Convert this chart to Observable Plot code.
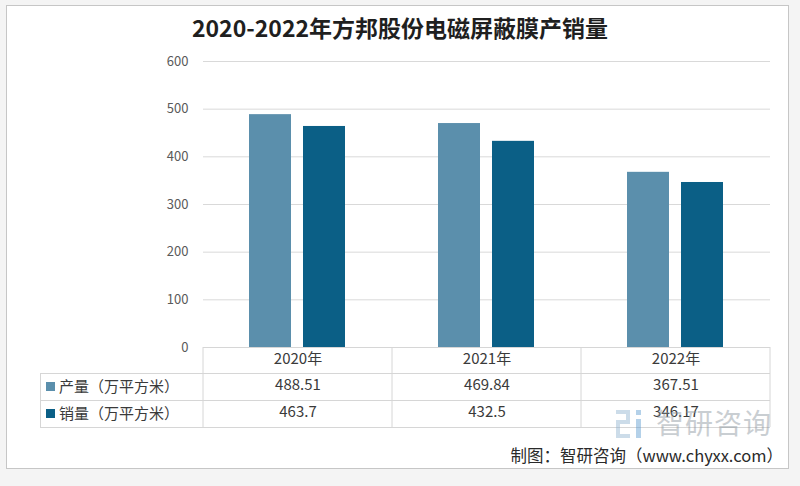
<!DOCTYPE html>
<html><head><meta charset="utf-8">
<script src="https://cdn.jsdelivr.net/npm/d3@7"></script>
<script src="https://cdn.jsdelivr.net/npm/@observablehq/plot@0.6"></script>
<style>
html,body{margin:0;padding:0;background:#f4f4f4;}
#wrap{position:relative;width:800px;height:486px;overflow:hidden;font-family:"Noto Sans CJK SC","Noto Sans",sans-serif;}
#title{position:absolute;left:0;width:800px;top:11px;text-align:center;font-size:23px;font-weight:bold;color:#1f1f1f;line-height:32px;z-index:2;}
#chart{position:absolute;left:0;top:0;}
</style></head>
<body><div id="wrap"><div id="chart"></div><div id="title">2020-2022年方邦股份电磁屏蔽膜产销量</div></div>
<script>
const years = ["2020年", "2021年", "2022年"];
const seriesKeys = ["产量", "销量"];
const seriesLabels = ["产量（万平方米）", "销量（万平方米）"];
const production = [488.51, 469.84, 367.51];
const sales = [463.7, 432.5, 346.17];
const productionLabels = ["488.51", "469.84", "367.51"];
const salesLabels = ["463.7", "432.5", "346.17"];
const yTicks = [0, 100, 200, 300, 400, 500, 600];
const colors = ["#5b8fac", "#0b5f86"];
const caption = "制图：智研咨询（www.chyxx.com）";
const watermark = "智研咨询";

const W = 800, H = 486, mT = 61, mB = 139, mL = 203, mR = 30;
const font = '"Noto Sans CJK SC","Noto Sans",sans-serif';

const bars = years.flatMap((y, i) => [
  {year: y, s: seriesKeys[0], v: production[i]},
  {year: y, s: seriesKeys[1], v: sales[i]}
]);
const rowVals = [years, productionLabels, salesLabels];
const rowDy = [16, 42, 69];

const tableMarks = rowVals.map((vals, r) =>
  Plot.text(years.map((y, i) => ({year: y, t: vals[i]})), {
    fx: "year", text: "t", frameAnchor: "bottom", dy: rowDy[r],
    fontSize: 15, fill: "#3a3a3a", fontFamily: font
  })
);

const plot = Plot.plot({
  width: W, height: H,
  marginTop: mT, marginBottom: mB, marginLeft: mL, marginRight: mR,
  style: {background: "transparent", fontFamily: font, overflow: "visible"},
  fx: {domain: years, padding: 0, axis: null, label: null},
  x: {domain: seriesKeys, paddingInner: 0.222, paddingOuter: 0.861, axis: null},
  y: {domain: [0, 600], axis: null},
  color: {domain: seriesKeys, range: colors},
  marks: [
    Plot.gridY(yTicks.filter(t => t > 0), {stroke: "#d9d9d9", strokeOpacity: 1}),
    Plot.axisY(yTicks, {tickSize: 0, tickPadding: 15, fontSize: 13, fill: "#5a5a5a", label: null, fontFamily: font}),
    Plot.barY(bars, {fx: "year", x: "s", y: "v", fill: "s"}),
    ...tableMarks
  ]
});
document.getElementById("chart").appendChild(plot);

const svg = d3.select(plot);
const bg = svg.insert("g", ":first-child");
bg.append("rect").attr("x", 0).attr("y", 0).attr("width", W).attr("height", H).attr("fill", "#f4f4f4");
bg.append("rect").attr("x", 6.5).attr("y", 5.5).attr("width", 782).attr("height", 463).attr("fill", "#fff").attr("stroke", "#c6c6c6");

const g = svg.append("g").attr("text-anchor", "start");
const x0 = mL, x1 = W - mR, step = (x1 - x0) / years.length;
const yTop = H - mB, rowH = [26, 27, 27];
const yLines = [yTop, yTop + rowH[0], yTop + rowH[0] + rowH[1], yTop + rowH[0] + rowH[1] + rowH[2]];
const tableLeft = 40;
const lc = "#d6d6d6";
g.append("line").attr("x1", x0).attr("x2", x1).attr("y1", yLines[0] + 0.5).attr("y2", yLines[0] + 0.5).attr("stroke", lc);
for (let k = 1; k < 4; k++) g.append("line").attr("x1", tableLeft).attr("x2", x1).attr("y1", yLines[k] + 0.5).attr("y2", yLines[k] + 0.5).attr("stroke", lc);
for (let k = 0; k <= years.length; k++) g.append("line").attr("x1", x0 + k * step).attr("x2", x0 + k * step).attr("y1", yLines[0]).attr("y2", yLines[3]).attr("stroke", lc);
g.append("line").attr("x1", tableLeft + 0.5).attr("x2", tableLeft + 0.5).attr("y1", yLines[1]).attr("y2", yLines[3]).attr("stroke", lc);

seriesLabels.forEach((lab, i) => {
  const cy = (yLines[i + 1] + yLines[i + 2]) / 2;
  g.append("rect").attr("x", 46).attr("y", cy - 4.5).attr("width", 9).attr("height", 9).attr("fill", colors[i]);
  g.append("text").attr("x", 59).attr("y", cy).attr("dy", "0.35em").attr("font-size", 15).attr("fill", "#3a3a3a").attr("font-family", font).text(lab);
});

// watermark
const wm = g.append("g").attr("opacity", 0.45);
const c1 = "#8fb2d0", c2 = "#5a9ad0";
[[616,410,14,4,c1],[626,410,4,14,c1],[616,420,14,4,c1],[616,420,4,18,c1],[616,434,14,4,c1],[636,410,5,5,c2],[636,419,5,19,c2]]
  .forEach(([x, y, w, h, c]) => wm.append("rect").attr("x", x).attr("y", y).attr("width", w).attr("height", h).attr("fill", c));
wm.append("text").attr("x", 656).attr("y", 424).attr("dy", "0.35em").attr("font-size", 28).attr("letter-spacing", 1).attr("fill", "#8a949c").attr("font-family", font).text(watermark);

g.append("text").attr("x", 783).attr("y", 456).attr("dy", "0.35em").attr("text-anchor", "end").attr("font-size", 16.5).attr("fill", "#2a2a2a").attr("font-family", font).text(caption);
</script></body></html>
